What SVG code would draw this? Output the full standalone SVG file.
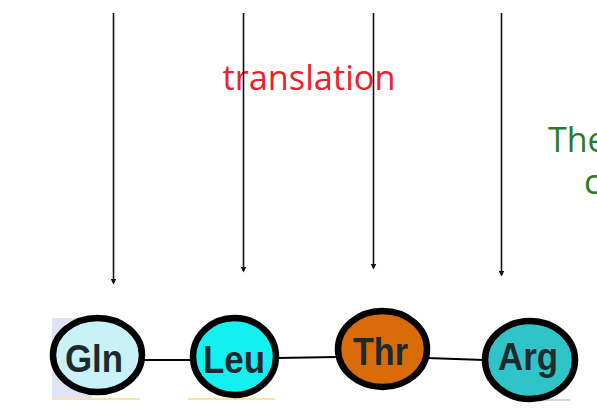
<svg xmlns="http://www.w3.org/2000/svg" width="597" height="410" viewBox="0 0 597 410">
  <style>
    .aa { stroke: #000; stroke-width: 6.5; }
    .lbl { font-family: "Liberation Sans", Arial, sans-serif; font-weight: bold; font-size: 38px; fill: #1c2a30; text-anchor: middle; }
    .link { stroke: #000; stroke-width: 2; }
    .arrow { stroke: #111; stroke-width: 1.6; fill: none; marker-end: url(#ah); }
    .green { font-family: "Open Sans", sans-serif; font-size: 34px; fill: #2a7a2a; }
  </style>
  <defs>
    <marker id="ah" markerWidth="6" markerHeight="6" refX="4.5" refY="3" orient="auto" markerUnits="userSpaceOnUse">
      <path d="M0,0 L6,3 L0,6 Z" fill="#111"/>
    </marker>
  </defs>
  <rect width="597" height="410" fill="#fff"/>

  <text x="309" y="90" font-family="'Open Sans', sans-serif" font-size="34" fill="#e8232b" text-anchor="middle" textLength="173" lengthAdjust="spacingAndGlyphs">translation</text>
  <text class="green" x="548" y="152">The</text>
  <text class="green" x="584" y="194">c</text>

  <g id="connectors">
    <line class="arrow" x1="113.5" y1="13" x2="113.5" y2="283"/>
    <line class="arrow" x1="243.5" y1="13" x2="243.5" y2="271"/>
    <line class="arrow" x1="373.5" y1="13" x2="373.5" y2="268"/>
    <line class="arrow" x1="501.5" y1="13" x2="501.5" y2="275"/>
    <line class="link" x1="142" y1="360" x2="192" y2="360"/>
    <line class="link" x1="277" y1="358" x2="337" y2="357"/>
    <line class="link" x1="427" y1="358" x2="484" y2="360"/>
  </g>

  <g id="gln">
    <rect x="52" y="318" width="40" height="80" fill="#e2e2f6"/>
    <line x1="52" y1="399" x2="140" y2="399" stroke="#f2eaa0" stroke-width="2"/>
    <ellipse class="aa" cx="97.5" cy="355" rx="44.5" ry="37" fill="#c9f1f8"/>
    <text class="lbl" x="94" y="372" textLength="58" lengthAdjust="spacingAndGlyphs">Gln</text>
  </g>
  <g id="leu">
    <line x1="188" y1="399" x2="275" y2="399" stroke="#f2eaa0" stroke-width="2"/>
    <ellipse class="aa" cx="234.5" cy="356.5" rx="41.5" ry="38.5" fill="#12f0f0"/>
    <text class="lbl" x="234" y="373" textLength="62" lengthAdjust="spacingAndGlyphs">Leu</text>
  </g>
  <g id="thr">
    <ellipse class="aa" cx="382.5" cy="349" rx="44.5" ry="38" fill="#d96c08"/>
    <text class="lbl" x="380.5" y="365" textLength="55" lengthAdjust="spacingAndGlyphs">Thr</text>
  </g>
  <g id="arg">
    <line x1="537" y1="400" x2="570" y2="400" stroke="#c8c8c8" stroke-width="1.5"/>
    <ellipse class="aa" cx="530" cy="360" rx="45" ry="39" fill="#30c4c8"/>
    <text class="lbl" x="528" y="370" textLength="60" lengthAdjust="spacingAndGlyphs">Arg</text>
  </g>
</svg>
